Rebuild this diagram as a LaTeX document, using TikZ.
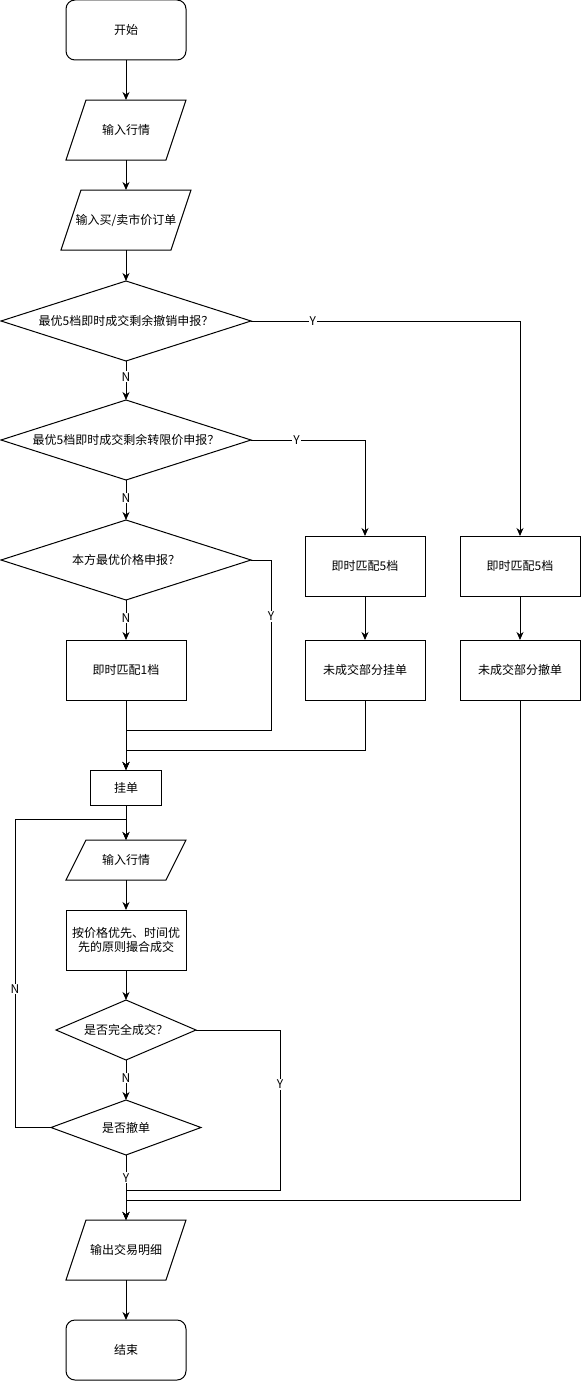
\documentclass[tikz,border=0pt]{standalone}
\usepackage{fontspec}
\setmainfont{Noto Sans CJK SC}
\usetikzlibrary{arrows.meta}
\usetikzlibrary{shapes.geometric,positioning}

\begin{document}
\begin{tikzpicture}[x=1pt,y=-1pt,>={Stealth[length=8pt,width=7pt,inset=2.5pt]},line width=1pt,
    font=\fontsize{12}{14}\selectfont,
    term node/.style={rectangle,rounded corners=9pt,draw,outer sep=0pt,minimum width=120pt,minimum height=60pt},
    proc node/.style={rectangle,draw,outer sep=0pt,minimum width=120pt,minimum height=60pt},
    io node/.style={rectangle,inner sep=0pt,outer sep=0pt,minimum width=120pt,minimum height=60pt},
    test node/.style={diamond,aspect=3,draw,inner sep=0pt,outer sep=0pt,minimum width=250pt,minimum height=80pt},
    yn/.style={fill=white,inner sep=1pt}]

      \useasboundingbox (0,0) rectangle (581,1381);

      \node[term node] (1) at (126,30) {开始};
      \node[io node] (2) [below=40pt of 1] {输入行情};
      \node[io node,minimum width=130pt] (3) [below=30pt of 2] {输入买/卖市价订单};
      \node[test node] (4) [below=31pt of 3] {最优5档即时成交剩余撤销申报？};
      \node[test node] (5) [below=39pt of 4] {最优5档即时成交剩余转限价申报？};
      \node[test node] (6) [below=40pt of 5] {本方最优价格申报？};
      \node[proc node] (7) [below=40pt of 6] {即时匹配1档};
      \node[proc node] (8) at (365,566) {即时匹配5档};
      \node[proc node] (9) [below=44pt of 8] {未成交部分挂单};
      \node[proc node] (10) at (520,566) {即时匹配5档};
      \node[proc node] (11) [below=44pt of 10] {未成交部分撤单};
      \node[proc node,minimum width=71pt,minimum height=35pt] (12) [below=70pt of 7] {挂单};
      \node[io node,minimum height=40pt] (13) [below=35pt of 12] {输入行情};
      \node[proc node,align=center] (14) [below=30pt of 13] {按价格优先、时间优\\先的原则撮合成交};
      \node[test node,minimum width=140pt,minimum height=60pt] (15) [below=30pt of 14] {是否完全成交？};
      \node[test node,minimum width=150pt,minimum height=55pt] (16) [below=40pt of 15] {是否撤单};
      \node[io node] (17) [below=65pt of 16] {输出交易明细};
      \node[term node] (18) [below=40pt of 17] {结束};

      % parallelograms for input/output
      \foreach \n in {2,3,13,17}
        \draw ([xshift=20pt]\n.north west) -- (\n.north east)
              -- ([xshift=-20pt]\n.south east) -- (\n.south west) -- cycle;

      \path[->,every node/.style={yn}]
        (1) edge (2)
        (2) edge (3)
        (3) edge (4)
        (4) edge node[pos=0.4] {N} (5)
        (5) edge node[pos=0.45] {N} (6)
        (6) edge node[pos=0.45] {N} (7)
        (7) edge (12)
        (8) edge (9)
        (10) edge (11)
        (12) edge (13)
        (13) edge (14)
        (14) edge (15)
        (15) edge node[pos=0.45] {N} (16)
        (16) edge node[pos=0.35] {Y} (17)
        (17) edge (18);

      \draw[->] (4.east) -| node[yn,pos=0.115] {Y} (10.north);
      \draw[->] (5.east) -| node[yn,pos=0.2] {Y} (8.north);
      \draw[->] (6.east) -- ++(20,0) -- node[yn,pos=0.33] {Y} ++(0,170) -| (12.north);
      \draw[->] (9.south) -- ++(0,50) -| (12.north);
      \draw[->] (11.south) -- ++(0,500) -| (17.north);
      \draw[->] (15.east) -- ++(84,0) -- node[yn,pos=0.34] {Y} ++(0,160) -| (17.north);
      \draw[->] (16.west) -- ++(-36,0) -- node[yn,pos=0.45] {N} ++(0,-308) -| (13.north);
    \end{tikzpicture}
\end{document}
